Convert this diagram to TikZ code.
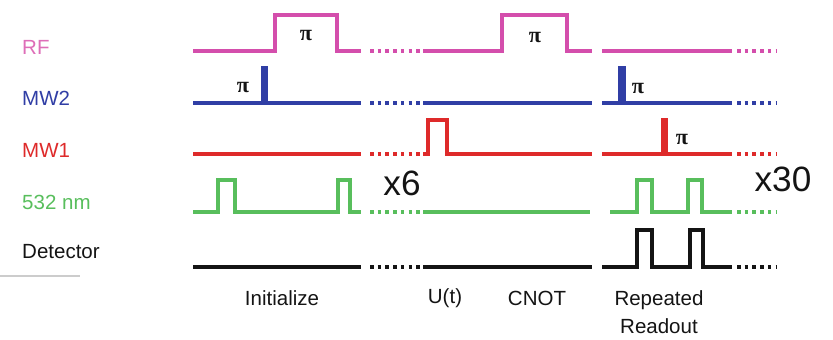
\documentclass[tikz,border=0pt]{standalone}
\usepackage{fontspec}
\setmainfont{Liberation Sans}
\newfontfamily\pifuente{Liberation Serif}
\definecolor{rfcol}{RGB}{212,78,172}
\definecolor{rflab}{RGB}{222,110,184}
\definecolor{mwdoscol}{RGB}{48,62,165}
\definecolor{mwunocol}{RGB}{222,42,42}
\definecolor{verdecol}{RGB}{88,190,92}
\definecolor{detcol}{RGB}{20,20,20}
\tikzset{
  pulso/.style={line width=3.2pt, line cap=butt, line join=miter},
  puntos/.style={line width=3.2pt, line cap=butt, dash pattern=on 3pt off 3.6pt},
  etiq/.style={anchor=west, font=\fontsize{17.5}{20}\selectfont, inner sep=0pt},
  fase/.style={font=\fontsize{17.5}{20}\selectfont, inner sep=0pt, text=detcol},
  rep/.style={font=\fontsize{30}{32}\selectfont, inner sep=0pt, text=detcol},
  pi/.style={font=\pifuente\bfseries\fontsize{19}{20}\selectfont, inner sep=0pt, text=detcol}
}
\begin{document}
\begin{tikzpicture}[x=0.03cm, y=-0.03cm]
  \useasboundingbox (0,0) rectangle (833,340);
  % nombres de los canales
  \node[etiq, text=rflab] (lrf) at (22,47) {RF};
  \node[etiq, text=mwdoscol] (lmwdos) at (22,98) {MW2};
  \node[etiq, text=mwunocol] (lmwuno) at (22,150) {MW1};
  \node[etiq, text=verdecol] (lverde) at (22,202) {532 nm};
  \node[etiq, text=detcol] (ldet) at (22,252) {Detector};
  \draw[black!20, line width=1.5pt] (0,276) -- (80,276);
  % RF
  \draw[pulso, rfcol] (193,51) -- (275,51) -- (275,15) -- (337,15) -- (337,51) -- (361,51);
  \draw[pulso, rfcol] (423,51) -- (502,51) -- (502,15) -- (567,15) -- (567,51) -- (592,51);
  \draw[pulso, rfcol] (602,51) -- (732,51);
  \node[pi] (pirfa) at (306,36) {π};
  \node[pi] (pirfb) at (535,38) {π};
  % MW2
  \draw[pulso, mwdoscol] (193,103) -- (263,103) -- (263,68) -- (266,68) -- (266,103) -- (361,103);
  \draw[pulso, mwdoscol] (423,103) -- (592,103);
  \draw[pulso, mwdoscol] (602,103) -- (620,103) -- (620,68) -- (624,68) -- (624,103) -- (732,103);
  \node[pi] (pimwa) at (243,88) {π};
  \node[pi] (pimwb) at (638,89) {π};
  % MW1
  \draw[pulso, mwunocol] (193,154) -- (361,154);
  \draw[pulso, mwunocol] (423,154) -- (428,154) -- (428,120) -- (447,120) -- (447,154) -- (592,154);
  \draw[pulso, mwunocol] (602,154) -- (663,154) -- (663,120) -- (666,120) -- (666,154) -- (732,154);
  \node[pi] (pimwc) at (682,140) {π};
  % laser verde
  \draw[pulso, verdecol] (193,212) -- (218,212) -- (218,180) -- (235,180) -- (235,212)
    -- (338,212) -- (338,180) -- (350,180) -- (350,212) -- (361,212);
  \draw[pulso, verdecol] (423,212) -- (590,212);
  \draw[pulso, verdecol] (610,212) -- (637,212) -- (637,180) -- (652,180) -- (652,212)
    -- (688,212) -- (688,180) -- (702,180) -- (702,212) -- (732,212);
  % detector
  \draw[pulso, detcol] (193,267) -- (361,267);
  \draw[pulso, detcol] (423,267) -- (592,267);
  \draw[pulso, detcol] (602,267) -- (637,267) -- (637,230) -- (652,230) -- (652,267)
    -- (690,267) -- (690,230) -- (703,230) -- (703,267) -- (732,267);
  % puntos entre bloques
  \foreach \c/\y in {rfcol/51, mwdoscol/103, mwunocol/154, verdecol/212, detcol/267} {
    \draw[puntos, \c] (370,\y) -- (421,\y);
    \draw[puntos, \c] (737,\y) -- (777,\y);
  }
  % repeticiones y fases
  \node[rep] (seis) at (402,183) {x6};
  \node[rep] (treinta) at (783,179) {x30};
  \node[fase] (ini) at (282,298) {Initialize};
  \node[fase] (ut) at (445,298) {U(t)};
  \node[fase] (cnot) at (537,298) {CNOT};
  \node[fase, align=center] (lect) at (659,312) {Repeated\\[4pt]Readout};
\end{tikzpicture}
\end{document}
